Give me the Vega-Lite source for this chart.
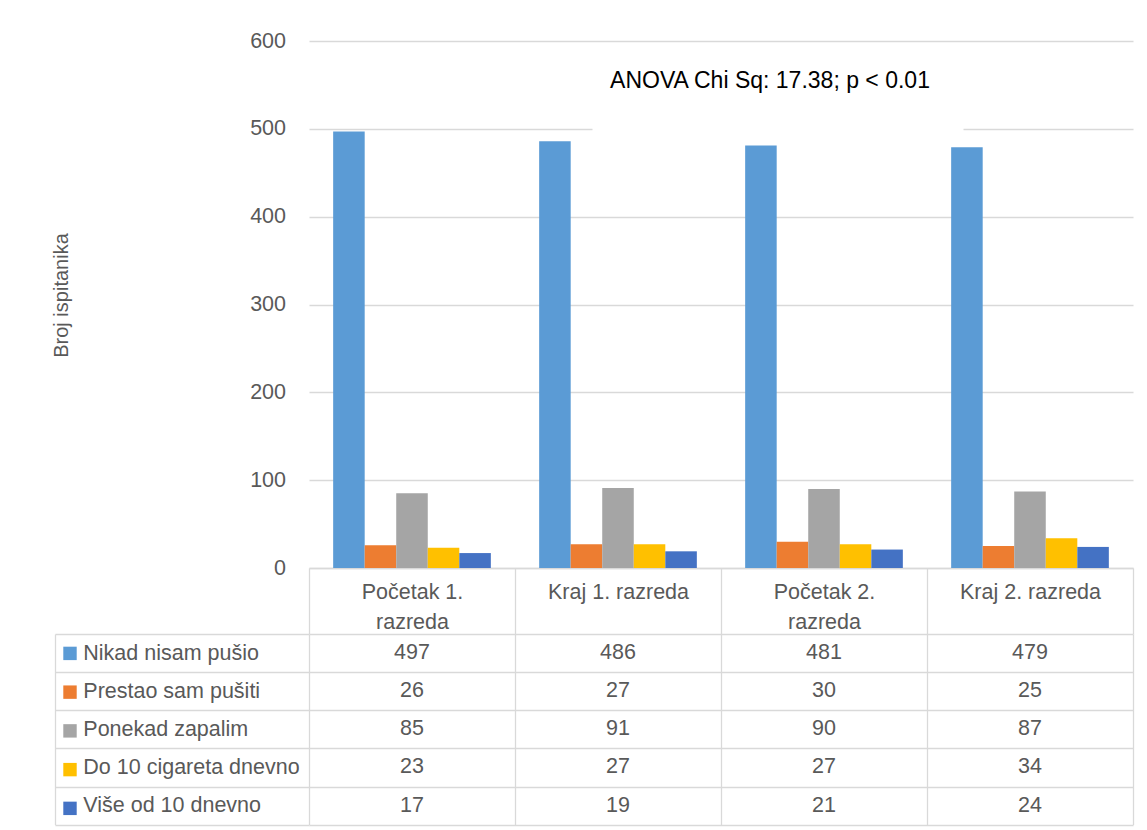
{
  "$schema": "https://vega.github.io/schema/vega-lite/v6.json",
  "background": "white",
  "padding": {"left": 51, "top": 30, "right": 5, "bottom": 5},
  "datasets": {
    "d": [
      {"cat": "Početak 1. razreda", "series": "Nikad nisam pušio", "value": 497},
      {"cat": "Kraj 1. razreda", "series": "Nikad nisam pušio", "value": 486},
      {"cat": "Početak 2. razreda", "series": "Nikad nisam pušio", "value": 481},
      {"cat": "Kraj 2. razreda", "series": "Nikad nisam pušio", "value": 479},
      {"cat": "Početak 1. razreda", "series": "Prestao sam pušiti", "value": 26},
      {"cat": "Kraj 1. razreda", "series": "Prestao sam pušiti", "value": 27},
      {"cat": "Početak 2. razreda", "series": "Prestao sam pušiti", "value": 30},
      {"cat": "Kraj 2. razreda", "series": "Prestao sam pušiti", "value": 25},
      {"cat": "Početak 1. razreda", "series": "Ponekad zapalim", "value": 85},
      {"cat": "Kraj 1. razreda", "series": "Ponekad zapalim", "value": 91},
      {"cat": "Početak 2. razreda", "series": "Ponekad zapalim", "value": 90},
      {"cat": "Kraj 2. razreda", "series": "Ponekad zapalim", "value": 87},
      {"cat": "Početak 1. razreda", "series": "Do 10 cigareta dnevno", "value": 23},
      {"cat": "Kraj 1. razreda", "series": "Do 10 cigareta dnevno", "value": 27},
      {"cat": "Početak 2. razreda", "series": "Do 10 cigareta dnevno", "value": 27},
      {"cat": "Kraj 2. razreda", "series": "Do 10 cigareta dnevno", "value": 34},
      {"cat": "Početak 1. razreda", "series": "Više od 10 dnevno", "value": 17},
      {"cat": "Kraj 1. razreda", "series": "Više od 10 dnevno", "value": 19},
      {"cat": "Početak 2. razreda", "series": "Više od 10 dnevno", "value": 21},
      {"cat": "Kraj 2. razreda", "series": "Više od 10 dnevno", "value": 24}
    ],
    "note": [{"label": "ANOVA Chi Sq: 17.38; p < 0.01"}]
  },
  "bounds": "flush",
  "spacing": 66,
  "resolve": {"scale": {"color": "independent"}, "legend": {"color": "independent"}},
  "vconcat": [
    {
      "width": 824,
      "height": 527,
      "layer": [
        {
          "data": {"name": "d"},
          "mark": {"type": "bar"},
          "encoding": {
            "x": {
              "field": "cat", "type": "nominal",
              "scale": {"domain": ["Početak 1. razreda", "Kraj 1. razreda", "Početak 2. razreda", "Kraj 2. razreda"], "paddingInner": 0, "paddingOuter": 0},
              "axis": {
                "title": null, "orient": "bottom", "grid": false,
                "domain": true, "domainColor": "#d9d9d9", "domainWidth": 1.3,
                "ticks": true, "tickColor": "#d9d9d9", "tickWidth": 1.3, "tickSize": 66, "tickBand": "extent",
                "labelAngle": 0, "labelFontSize": 21.5, "labelColor": "#595959", "labelBaseline": "middle",
                "labelPadding": -42, "labelLineHeight": 30,
                "labelExpr": "indexof(datum.label, 'Početak') == 0 ? [slice(datum.label, 0, 10), slice(datum.label, 11)] : datum.label"
              }
            },
            "xOffset": {
              "field": "series", "type": "nominal",
              "sort": ["Nikad nisam pušio", "Prestao sam pušiti", "Ponekad zapalim", "Do 10 cigareta dnevno", "Više od 10 dnevno"],
              "scale": {"paddingInner": 0, "paddingOuter": 0.766}
            },
            "y": {
              "field": "value", "type": "quantitative",
              "scale": {"domain": [0, 600], "nice": false},
              "axis": {
                "title": "Broj ispitanika", "titleFontSize": 20, "titleFontWeight": "normal", "titleColor": "#595959", "titlePadding": 178, "titleY": 254,
                "values": [0, 100, 200, 300, 400, 500, 600],
                "domain": false, "ticks": false, "grid": true, "gridColor": "#d9d9d9", "gridWidth": 1.3,
                "labelFontSize": 21.5, "labelColor": "#595959", "labelPadding": 23.5
              }
            },
            "color": {
              "field": "series", "type": "nominal",
              "scale": {
                "domain": ["Nikad nisam pušio", "Prestao sam pušiti", "Ponekad zapalim", "Do 10 cigareta dnevno", "Više od 10 dnevno"],
                "range": ["#5B9BD5", "#ED7D31", "#A5A5A5", "#FFC000", "#4472C4"]
              },
              "legend": null
            }
          }
        },
        {
          "data": {"name": "note"},
          "mark": {"type": "rect", "color": "white", "width": 371, "xOffset": -46},
          "encoding": {
            "x": {"datum": "Početak 2. razreda"},
            "y": {"datum": 490},
            "y2": {"datum": 510}
          }
        },
        {
          "data": {"name": "note"},
          "mark": {"type": "text", "fontSize": 23, "color": "#000000", "dx": -54, "align": "center", "baseline": "middle"},
          "encoding": {
            "x": {"datum": "Početak 2. razreda"},
            "y": {"datum": 555},
            "text": {"field": "label"}
          }
        }
      ]
    },
    {
      "width": 824,
      "height": 190.7,
      "data": {"name": "d"},
      "encoding": {
        "x": {
          "field": "cat", "type": "nominal",
          "scale": {"domain": ["Početak 1. razreda", "Kraj 1. razreda", "Početak 2. razreda", "Kraj 2. razreda"], "paddingInner": 0, "paddingOuter": 0},
          "axis": {"title": null, "labels": false, "ticks": false, "domain": false, "grid": true, "gridColor": "#d9d9d9", "gridWidth": 1.3, "tickBand": "extent"}
        },
        "y": {
          "field": "series", "type": "nominal",
          "scale": {"domain": ["Nikad nisam pušio", "Prestao sam pušiti", "Ponekad zapalim", "Do 10 cigareta dnevno", "Više od 10 dnevno"], "paddingInner": 0, "paddingOuter": 0},
          "axis": {
            "title": null, "orient": "left", "offset": 254,
            "domain": true, "domainColor": "#d9d9d9", "domainWidth": 1.3,
            "ticks": true, "tickSize": -254, "tickColor": "#d9d9d9", "tickWidth": 1.3, "tickBand": "extent",
            "grid": true, "gridColor": "#d9d9d9", "gridWidth": 1.3,
            "labelAlign": "left", "labelBaseline": "middle", "labelPadding": 226.2, "labelLimit": 400,
            "labelFontSize": 21.5, "labelColor": "#595959"
          }
        }
      },
      "layer": [
        {
          "mark": {"type": "text", "fontSize": 21.5, "color": "#595959", "align": "center", "baseline": "middle"},
          "encoding": {"text": {"field": "value", "type": "quantitative"}}
        },
        {
          "mark": {"type": "point", "filled": true, "opacity": 0, "shape": "square"},
          "encoding": {
            "color": {
              "field": "series", "type": "nominal",
              "scale": {
                "domain": ["Nikad nisam pušio", "Prestao sam pušiti", "Ponekad zapalim", "Do 10 cigareta dnevno", "Više od 10 dnevno"],
                "range": ["#5B9BD5", "#ED7D31", "#A5A5A5", "#FFC000", "#4472C4"]
              },
              "legend": {
                "orient": "none", "legendX": -246, "legendY": 12.4, "title": null,
                "symbolType": "square", "symbolSize": 180, "symbolStrokeWidth": 0, "symbolOpacity": 1,
                "labelExpr": "''", "labelOpacity": 0, "labelFontSize": 6, "rowPadding": 24.74, "padding": 0
              }
            }
          }
        }
      ]
    }
  ],
  "config": {
    "view": {"stroke": null},
    "font": "Liberation Sans"
  }
}
